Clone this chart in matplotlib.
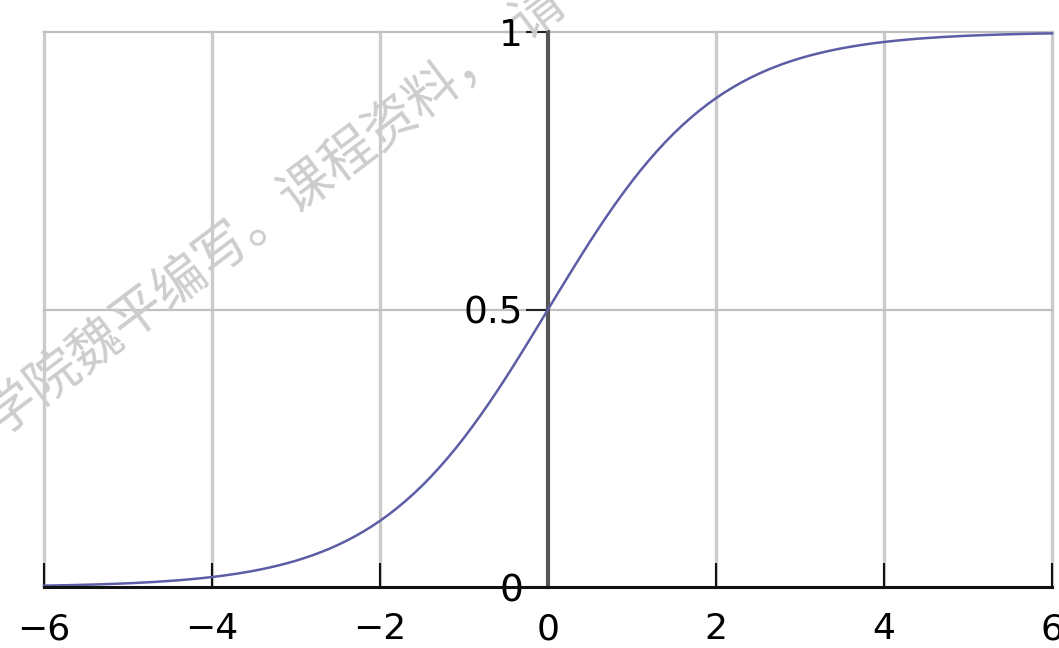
import matplotlib.pyplot as plt
import numpy as np

plt.rcParams['font.family'] = ['DejaVu Sans']

# logistic curve, sampled every 0.1 from -6 to 6
x_vals = np.arange(-60, 61) / 10.0
y_vals = [0.0025, 0.0027, 0.0030, 0.0033, 0.0037, 0.0041, 0.0045, 0.0050,
          0.0055, 0.0061, 0.0067, 0.0074, 0.0082, 0.0090, 0.0100, 0.0110,
          0.0121, 0.0134, 0.0148, 0.0163, 0.0180, 0.0198, 0.0219, 0.0241,
          0.0266, 0.0293, 0.0323, 0.0356, 0.0392, 0.0431, 0.0474, 0.0522,
          0.0573, 0.0630, 0.0691, 0.0759, 0.0832, 0.0911, 0.0998, 0.1091,
          0.1192, 0.1301, 0.1419, 0.1545, 0.1680, 0.1824, 0.1978, 0.2142,
          0.2315, 0.2497, 0.2689, 0.2891, 0.3100, 0.3318, 0.3543, 0.3775,
          0.4013, 0.4256, 0.4502, 0.4750,
          0.5000,
          0.5250, 0.5498, 0.5744, 0.5987, 0.6225, 0.6457, 0.6682, 0.6900,
          0.7109, 0.7311, 0.7503, 0.7685, 0.7858, 0.8022, 0.8176, 0.8320,
          0.8455, 0.8581, 0.8699, 0.8808, 0.8909, 0.9002, 0.9089, 0.9168,
          0.9241, 0.9309, 0.9370, 0.9427, 0.9478, 0.9526, 0.9569, 0.9608,
          0.9644, 0.9677, 0.9707, 0.9734, 0.9759, 0.9781, 0.9802, 0.9820,
          0.9837, 0.9852, 0.9866, 0.9879, 0.9890, 0.9900, 0.9910, 0.9918,
          0.9926, 0.9933, 0.9939, 0.9945, 0.9950, 0.9955, 0.9959, 0.9963,
          0.9967, 0.9970, 0.9973, 0.9975]

x_ticks = [-6, -4, -2, 0, 2, 4, 6]
x_labels = ['−6', '−4', '−2', '0', '2', '4', '6']
y_ticks = [0, 0.5, 1]
y_labels = ['0', '0.5', '1']
watermark = '学院魏平编写。课程资料，\u2002请'

fig = plt.figure(figsize=(10.59, 6.48), dpi=100)
ax = fig.add_axes([44 / 1059, 61 / 648, 1008 / 1059, 555 / 648])
ax.set_xlim(-6, 6)
ax.set_ylim(0, 1)

# grid
for gx in [-6, -4, -2, 2, 4, 6]:
    ax.axvline(gx, color='#cbcbcb', lw=2.4, zorder=1, clip_on=False)
for gy in [0.5, 1]:
    ax.axhline(gy, color='#c0c0c0', lw=1.6, zorder=1, clip_on=False)

ax.plot(x_vals, y_vals, color='#5d5da6', lw=1.8, zorder=3, clip_on=False)

# axes through the origin
ax.spines['top'].set_visible(False)
ax.spines['right'].set_visible(False)
ax.spines['left'].set_position(('data', 0))
ax.spines['left'].set_color('#555555')
ax.spines['left'].set_linewidth(3.0)
ax.spines['left'].set_zorder(2)
ax.spines['bottom'].set_color('#111111')
ax.spines['bottom'].set_linewidth(2.2)
ax.spines['bottom'].set_zorder(4)

ax.set_xticks(x_ticks, x_labels)
ax.set_yticks(y_ticks, y_labels)
ax.tick_params(axis='x', direction='in', length=17, width=1.5, color='#111111',
               pad=18, labelsize=26)
ax.tick_params(axis='y', direction='out', length=16, width=1.5, color='#222222',
               pad=2, labelsize=27)
for lab in ax.get_xticklabels() + ax.get_yticklabels():
    lab.set_clip_on(False)

fig.text(-0.0085, 0.343, watermark, rotation=37, rotation_mode='anchor',
         ha='left', va='center', fontsize=38, color='#cdcdcd',
         family=['Noto Sans CJK SC', 'DejaVu Sans'], zorder=5)

fig.savefig('out.png', dpi=100)
